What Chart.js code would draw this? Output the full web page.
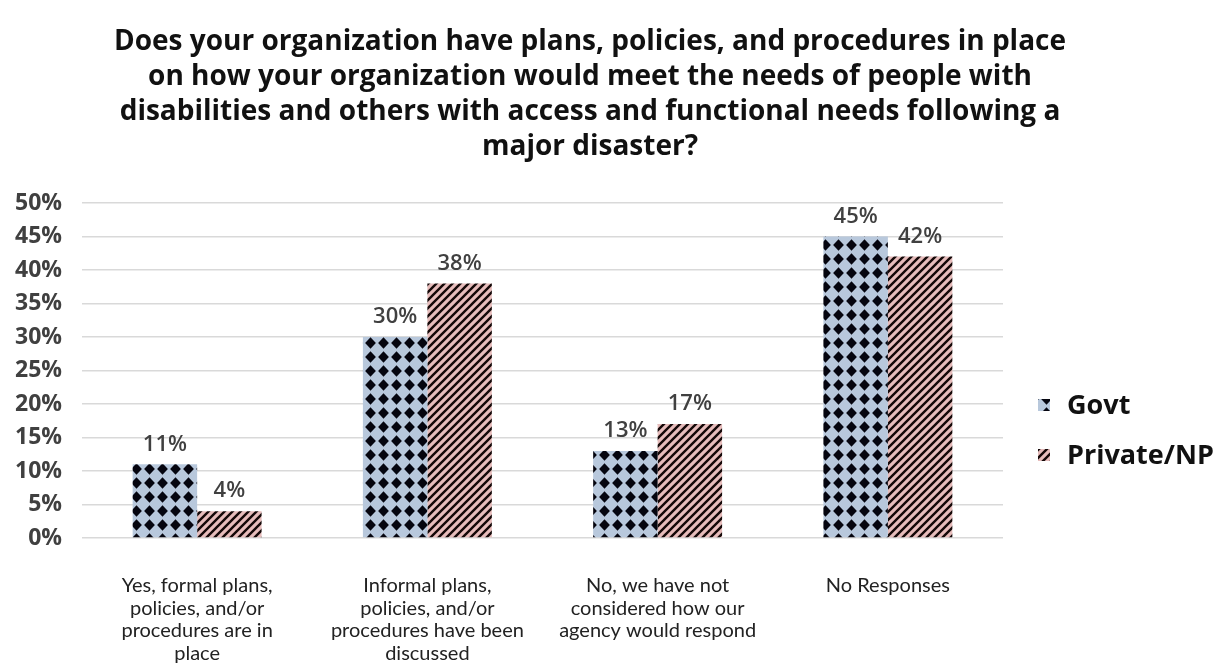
<!DOCTYPE html>
<html>
<head>
<meta charset="utf-8">
<script src="https://cdn.jsdelivr.net/npm/chart.js@4"></script>
<style>
  html, body { margin: 0; padding: 0; background: #fff; }
  #wrap { width: 1220px; height: 667px; }
</style>
</head>
<body>
<div id="wrap"><canvas id="barChart" width="1220" height="667"></canvas></div>
<script>
const categories = [
  ["Yes, formal plans,", "policies, and/or", "procedures are in", "place"],
  ["Informal plans,", "policies, and/or", "procedures have been", "discussed"],
  ["No, we have not", "considered how our", "agency would respond"],
  ["No Responses"]
];
const govtValues = [11, 30, 13, 45];
const privateValues = [4, 38, 17, 42];
const yTicks = [0, 5, 10, 15, 20, 25, 30, 35, 40, 45, 50];

const titleLines = [
  "Does your organization have plans, policies, and procedures in place",
  "on how your organization would meet the needs of people with",
  "disabilities and others with access and functional needs following a",
  "major disaster?"
];

const BOLD_FONT = "'Open Sans', Lato, sans-serif";
const TEXT_FONT = "Lato, 'Open Sans', sans-serif";
const LEGEND_SPACE = 217;   // room kept free right of the plot for the legend

// blue fill with black diamonds
function diamondPattern() {
  const c = document.createElement("canvas");
  const w = 13, h = 14;
  c.width = w; c.height = h;
  const g = c.getContext("2d");
  g.fillStyle = "#b8c8dc";
  g.fillRect(0, 0, w, h);
  g.fillStyle = "#05050f";
  const cx = w / 2, cy = h / 2;
  g.beginPath();
  g.moveTo(cx, cy - 5.8);
  g.lineTo(cx + 5.4, cy);
  g.lineTo(cx, cy + 5.8);
  g.lineTo(cx - 5.4, cy);
  g.closePath();
  g.fill();
  return g.createPattern(c, "repeat");
}

// pink fill with "/" stripes
function stripePattern() {
  const c = document.createElement("canvas");
  const s = 8;
  c.width = s; c.height = s;
  const g = c.getContext("2d");
  g.fillStyle = "#e6bcbb";
  g.fillRect(0, 0, s, s);
  g.strokeStyle = "#140808";
  g.lineWidth = 2.4;
  g.beginPath();
  g.moveTo(-2, s + 2); g.lineTo(s + 2, -2);
  g.moveTo(-2, 2); g.lineTo(2, -2);
  g.moveTo(s - 2, s + 2); g.lineTo(s + 2, s - 2);
  g.stroke();
  return g.createPattern(c, "repeat");
}

// value labels above each bar
const barLabels = {
  id: "barLabels",
  afterDatasetsDraw(chart) {
    const ctx = chart.ctx;
    ctx.save();
    ctx.font = "600 22px " + BOLD_FONT;
    ctx.fillStyle = "#404040";
    ctx.textAlign = "center";
    ctx.textBaseline = "bottom";
    chart.data.datasets.forEach((ds, i) => {
      chart.getDatasetMeta(i).data.forEach((bar, j) => {
        ctx.fillText(ds.data[j] + "%", bar.x, bar.y - 9);
      });
    });
    ctx.restore();
  }
};

// legend drawn to the right of the plot
const sideLegend = {
  id: "sideLegend",
  afterDraw(chart) {
    const ctx = chart.ctx;
    const area = chart.chartArea;
    const x = area.right + 35;
    ctx.save();
    ctx.font = "bold 27px " + BOLD_FONT;
    ctx.textBaseline = "middle";
    ctx.textAlign = "left";
    chart.data.datasets.forEach((ds, i) => {
      const y = area.bottom - 133 + i * 50;
      ctx.fillStyle = ds.backgroundColor;
      ctx.fillRect(x, y - 6, 12, 12);
      ctx.fillStyle = "#111";
      ctx.fillText(ds.label, x + 29, y + 1);
    });
    ctx.restore();
  }
};

const ctx = document.getElementById("barChart").getContext("2d");
const chart = new Chart(ctx, {
  type: "bar",
  data: {
    labels: categories,
    datasets: [
      { label: "Govt", data: govtValues, backgroundColor: diamondPattern(), borderWidth: 0 },
      { label: "Private/NP", data: privateValues, backgroundColor: stripePattern(), borderWidth: 0 }
    ]
  },
  options: {
    responsive: false,
    animation: false,
    devicePixelRatio: 1,
    layout: { padding: { left: 12, right: 52, top: 0, bottom: 2 } },
    datasets: { bar: { categoryPercentage: 0.56, barPercentage: 1 } },
    plugins: {
      title: {
        display: true,
        text: titleLines,
        color: "#111",
        font: { family: BOLD_FONT, size: 28, weight: "bold", lineHeight: 1.25 },
        padding: { top: 25, bottom: 38 }
      },
      legend: { display: false },
      tooltip: { enabled: false }
    },
    scales: {
      x: {
        grid: { display: false },
        border: { display: false },
        afterFit(scale) {
          scale.height = 127;
          scale.paddingRight = LEGEND_SPACE;
        },
        ticks: {
          color: "#222",
          font: { family: TEXT_FONT, size: 20, lineHeight: 1.135 },
          maxRotation: 0,
          autoSkip: false,
          padding: 28
        }
      },
      y: {
        min: 0,
        max: 50,
        afterBuildTicks(axis) { axis.ticks = yTicks.map(v => ({ value: v })); },
        afterFit(scale) { scale.width = 70; },
        grid: { color: "#d9d9d9", lineWidth: 1.5, drawTicks: false },
        border: { display: false },
        ticks: {
          color: "#404040",
          font: { family: BOLD_FONT, size: 23, weight: "bold" },
          padding: 20,
          callback: v => v + "%"
        }
      }
    }
  },
  plugins: [barLabels, sideLegend]
});
</script>
</body>
</html>
